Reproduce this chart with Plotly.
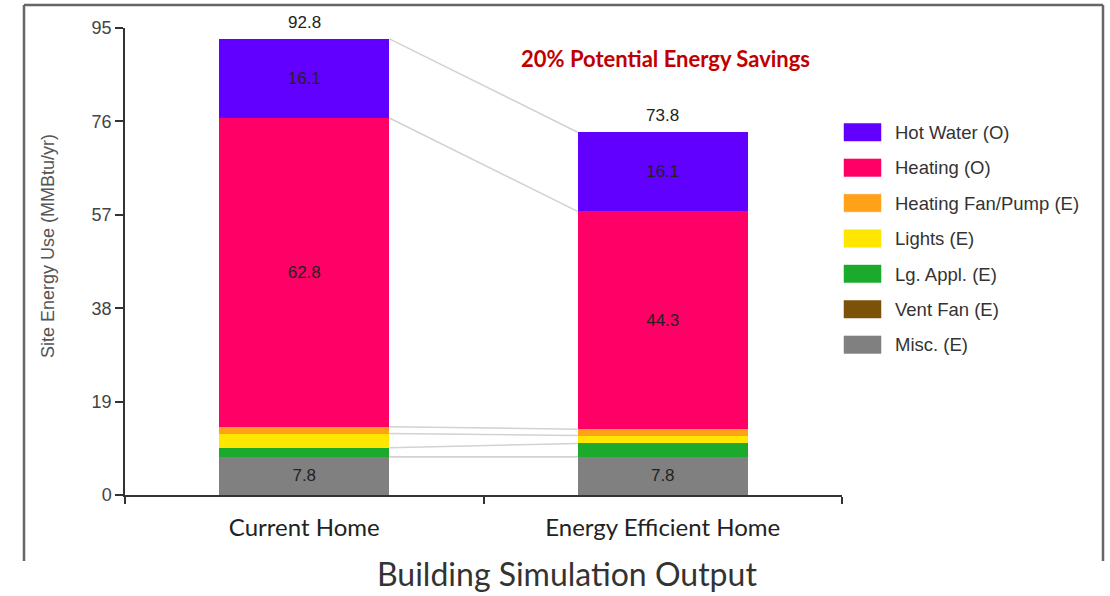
import numpy as np
import plotly.graph_objects as go

# ---- data ----
homes = ["Current Home", "Energy Efficient Home"]
end_uses = ["Misc. (E)", "Vent Fan (E)", "Lg. Appl. (E)", "Lights (E)",
            "Heating Fan/Pump (E)", "Heating (O)", "Hot Water (O)"]
misc = [7.8, 7.8]
vent_fan = [0.0, 0.0]
lg_appl = [1.8, 2.7]
lights = [2.9, 1.6]
heat_fan = [1.4, 1.3]
heating = [62.8, 44.3]
hot_water = [16.1, 16.1]
totals = [92.8, 73.8]
y_ticks = [0, 19, 38, 57, 76, 95]
savings_note = "20% Potential Energy Savings"

series = [misc, vent_fan, lg_appl, lights, heat_fan, heating, hot_water]
colors = ["#808080", "#7B5208", "#1BAA2B", "#FFE600", "#FFA21A", "#FF0066", "#6200FF"]
labelled = {"Misc. (E)", "Heating (O)", "Hot Water (O)"}

SANS = "Liberation Sans, Arial, sans-serif"
CAL = "Lato, Open Sans, sans-serif"

# plot area in pixels
L, R, T, B = 125, 842, 28, 495
W, H = 1110, 596
BAR_W = 0.475


def px(xp):
    return (xp - L) / (R - L)


def py(yp):
    return (B - yp) / (B - T)


fig = go.Figure()
for name, vals, col in zip(end_uses, series, colors):
    txt = [f"{v:.1f}" if name in labelled else "" for v in vals]
    fig.add_trace(go.Bar(
        x=homes, y=vals, name=name, marker=dict(color=col, line=dict(width=0)),
        width=BAR_W, text=txt, textposition="inside", insidetextanchor="middle",
        textangle=0, textfont=dict(family=SANS, size=17, color="#222222"),
        showlegend=False, hoverinfo="skip",
    ))

shapes = []
# connector lines between matching segment tops
cum = np.cumsum(np.array(series), axis=0)
for row in cum:
    shapes.append(dict(type="line", xref="x", yref="y",
                       x0=0 + BAR_W / 2, x1=1 - BAR_W / 2, y0=row[0], y1=row[1],
                       line=dict(color="#D2D2D2", width=1.5), layer="below"))

annotations = []
# totals above bars
for i, t in enumerate(totals):
    annotations.append(dict(x=i, y=t, xref="x", yref="y", text=f"{t:.1f}",
                            showarrow=False, xanchor="center", yanchor="bottom",
                            yshift=5,
                            font=dict(family=SANS, size=17, color="#222222")))

annotations.append(dict(x=px(665), y=py(58), xref="paper", yref="paper",
                        text=f"<b>{savings_note}</b>", showarrow=False,
                        xanchor="center", yanchor="middle",
                        font=dict(family=CAL, size=22, color="#C00000")))

# y axis title
annotations.append(dict(x=px(48), y=py(246), xref="paper", yref="paper",
                        text="Site Energy Use (MMBtu/yr)", textangle=-90,
                        showarrow=False, xanchor="center", yanchor="middle",
                        font=dict(family=SANS, size=18, color="#555555")))

# legend (top entry = top of stack)
leg_order = list(zip(end_uses, colors))[::-1]
for k, (name, col) in enumerate(leg_order):
    y0 = 123.5 + k * 35.4
    shapes.append(dict(type="rect", xref="paper", yref="paper",
                       x0=px(844), x1=px(881), y0=py(y0 + 17.5), y1=py(y0),
                       fillcolor=col, line=dict(color=col, width=0.5)))
    annotations.append(dict(x=px(893), y=py(y0 + 9), xref="paper", yref="paper",
                            text=name, showarrow=False, xanchor="left",
                            yanchor="middle",
                            font=dict(family=SANS, size=18.5, color="#333333")))

# outer frame (open at the bottom)
frame = dict(color="#666666", width=2.5)
shapes.append(dict(type="line", xref="paper", yref="paper",
                   x0=px(24), x1=px(24), y0=py(5), y1=py(561), line=frame))
shapes.append(dict(type="line", xref="paper", yref="paper",
                   x0=px(24), x1=px(1103), y0=py(5), y1=py(5), line=frame))
shapes.append(dict(type="line", xref="paper", yref="paper",
                   x0=px(1103), x1=px(1103), y0=py(5), y1=py(561), line=frame))

# caption below the chart
annotations.append(dict(x=px(567), y=py(595), xref="paper", yref="paper",
                        text="Building Simulation Output", showarrow=False,
                        xanchor="center", yanchor="bottom",
                        font=dict(family=CAL, size=32, color="#333333")))

fig.update_layout(
    width=W, height=H, barmode="stack",
    margin=dict(l=L, r=W - R, t=T, b=H - B),
    plot_bgcolor="white", paper_bgcolor="white",
    shapes=shapes, annotations=annotations,
    uniformtext=dict(mode=False),
    xaxis=dict(type="category", range=[-0.5, 1.5], showgrid=False,
               showline=True, linecolor="#333333", linewidth=1.5,
               ticks="outside", tickson="boundaries", ticklen=7,
               tickcolor="#333333", tickwidth=1.5, ticklabelstandoff=10,
               tickfont=dict(family=CAL, size=24, color="#222222")),
    yaxis=dict(range=[0, 95], tickvals=y_ticks, showgrid=False, zeroline=False,
               showline=True, linecolor="#333333", linewidth=1.5,
               ticks="outside", ticklen=8, tickcolor="#333333", tickwidth=1.5,
               tickfont=dict(family=SANS, size=18, color="#444444")),
)

fig.write_html("out.html")
